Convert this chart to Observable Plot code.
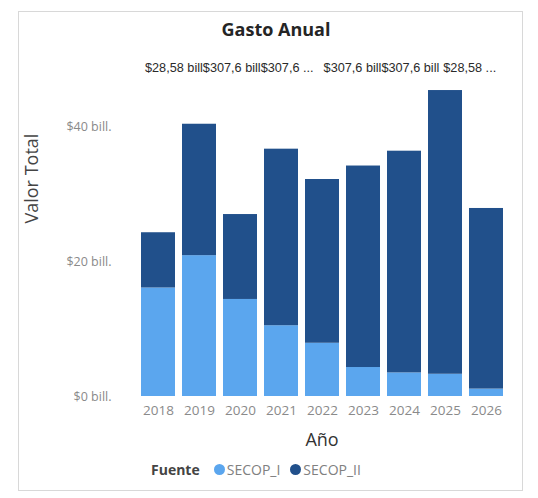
<!DOCTYPE html>
<html>
<head>
<meta charset="utf-8">
<script src="https://cdn.jsdelivr.net/npm/d3@7"></script>
<script src="https://cdn.jsdelivr.net/npm/@observablehq/plot@0.6"></script>
<style>
  body { margin: 0; background: #fff; }
  #wrap { position: relative; width: 538px; height: 498px; overflow: hidden; font-family: "Open Sans", sans-serif; }
  #card { position: absolute; left: 18px; top: 11px; width: 505px; height: 480px; border: 1px solid #d8d8d8; box-sizing: border-box; }
  #title { position: absolute; left: 0; width: 552px; top: 17px; text-align: center; font-weight: 700; font-size: 18px; color: #252525; }
  #toplabels { position: absolute; left: 145px; top: 61px; font-family: "Liberation Sans", Arial, sans-serif; font-size: 12.7px; color: #2a2a2a; white-space: nowrap; display: flex; }
  #chart { position: absolute; left: 0; top: 80px; }
  #legend { position: absolute; left: 151px; top: 460px; font-size: 14px; color: #808080; display: flex; align-items: center; white-space: nowrap; }
  #legend .h { font-weight: 700; color: #444; margin-right: 14px; }
  #legend .dot { width: 11px; height: 11px; border-radius: 50%; display: inline-block; margin-right: 2px; }
  #legend .item { display: flex; align-items: center; margin-right: 10px; }
</style>
</head>
<body>
<div id="wrap">
  <div id="card"></div>
  <div id="title"></div>
  <div id="toplabels"></div>
  <div id="chart"></div>
  <div id="legend"></div>
</div>
<script>
const years = ["2018","2019","2020","2021","2022","2023","2024","2025","2026"];
const secopI  = [16.1, 20.9, 14.4, 10.5, 7.9, 4.3, 3.5, 3.3, 1.1];
const secopII = [8.2, 19.5, 12.6, 26.2, 24.3, 29.9, 32.9, 42.1, 26.8];
const series = ["SECOP_I", "SECOP_II"];
const colors = ["#5ba6ee", "#21508b"];
const yTicks = [0, 20, 40];
const topLabels = ["$28,58 bill", "$307,6 bill", "$307,6 ...", "$307,6 bill", "$307,6 bill", "$28,58 ..."];
const titleText = "Gasto Anual";
const xLabel = "Año";
const yLabel = "Valor Total";
const legendTitle = "Fuente";

document.getElementById("title").textContent = titleText;
const tl = document.getElementById("toplabels");
const gaps = [0, 0, 0, 10, 0, 4];
topLabels.forEach((t, i) => {
  const s = document.createElement("span");
  s.textContent = t;
  s.style.marginLeft = gaps[i] + "px";
  tl.appendChild(s);
});

const data = [];
years.forEach((y, i) => {
  data.push({year: y, fuente: series[0], value: secopI[i]});
  data.push({year: y, fuente: series[1], value: secopII[i]});
});

const chart = Plot.plot({
  width: 538,
  height: 375,
  marginLeft: 133,
  marginRight: 28,
  marginTop: 6,
  marginBottom: 59,
  style: {fontFamily: "Open Sans, sans-serif", background: "transparent"},
  x: {domain: years, paddingInner: 0.18, paddingOuter: 0.1, label: null},
  y: {domain: [0, 46], label: null},
  color: {domain: series, range: colors},
  marks: [
    Plot.barY(data, {x: "year", y: "value", fill: "fuente"}),
    Plot.axisY({ticks: yTicks, tickSize: 0, tickPadding: 22, tickFormat: d => `$${d} bill.`, fontSize: 12.5, fill: "#8a8a8a", label: null}),
    Plot.axisX({tickSize: 0, tickPadding: 9, fontSize: 13.5, fill: "#8a8a8a", label: null}),
    Plot.text([xLabel], {frameAnchor: "bottom", dy: 44, lineAnchor: "middle", fontSize: 18, fill: "#333"}),
    Plot.text([yLabel], {frameAnchor: "left", dx: -101, dy: -18, rotate: -90, lineAnchor: "middle", fontSize: 18, fill: "#444"})
  ]
});
document.getElementById("chart").appendChild(chart);

const lg = document.getElementById("legend");
const h = document.createElement("span");
h.className = "h";
h.textContent = legendTitle;
lg.appendChild(h);
series.forEach((s, i) => {
  const it = document.createElement("span");
  it.className = "item";
  const d = document.createElement("span");
  d.className = "dot";
  d.style.background = colors[i];
  const t = document.createElement("span");
  t.textContent = s;
  it.appendChild(d);
  it.appendChild(t);
  lg.appendChild(it);
});
</script>
</body>
</html>
